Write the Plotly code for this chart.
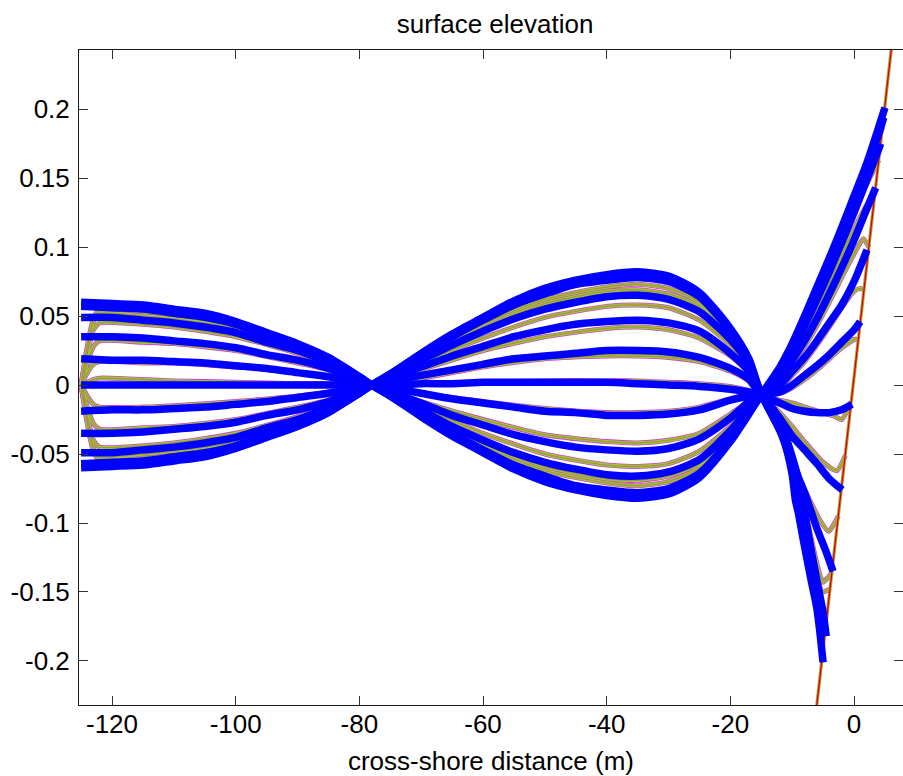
import plotly.graph_objects as go

# ---------------- data ----------------
# offshore x grid shared by the thick (blue) lines
X_LEFT = [-125, -120, -115, -110, -105, -100, -95, -90, -85, -80, -78]
X_MID = [-75, -70, -65, -60, -55, -50, -45, -40, -35, -30, -25, -20, -17]

# blue lines: offshore part (left lobe + middle lobe)
BLUE_A_OFF = [0.060, 0.059, 0.058, 0.055, 0.052, 0.046, 0.038, 0.030, 0.020, 0.006, 0.000,
              -0.008, -0.023, -0.037, -0.049, -0.061, -0.070, -0.076, -0.080, -0.082, -0.079, -0.067, -0.041, -0.021]
BLUE_B_OFF = [0.057, 0.056, 0.055, 0.052, 0.049, 0.044, 0.036, 0.029, 0.019, 0.006, 0.000,
              -0.008, -0.022, -0.035, -0.047, -0.058, -0.066, -0.073, -0.076, -0.078, -0.075, -0.064, -0.039, -0.020]
BLUE_C_OFF = [0.049, 0.049, 0.047, 0.045, 0.042, 0.038, 0.031, 0.025, 0.016, 0.005, 0.000,
              -0.007, -0.018, -0.030, -0.040, -0.049, -0.056, -0.061, -0.065, -0.066, -0.063, -0.054, -0.033, -0.017]
BLUE_D_OFF = [0.035, 0.035, 0.034, 0.032, 0.030, 0.027, 0.022, 0.018, 0.012, 0.004, 0.000,
              -0.005, -0.013, -0.022, -0.029, -0.036, -0.041, -0.045, -0.047, -0.048, -0.046, -0.039, -0.024, -0.012]
BLUE_E_OFF = [0.019, 0.018, 0.018, 0.017, 0.016, 0.014, 0.012, 0.009, 0.006, 0.002, 0.000,
              -0.002, -0.006, -0.010, -0.013, -0.016, -0.019, -0.020, -0.022, -0.022, -0.021, -0.018, -0.011, -0.008]
BLUE_F_OFF = [0.000, 0.000, 0.000, 0.000, 0.000, 0.000, 0.000, 0.000, 0.000, 0.000, 0.000,
              0.000, 0.001, 0.001, 0.002, 0.002, 0.002, 0.002, 0.002, 0.001, 0.000, -0.001, -0.003, -0.005]
BLUE_G_OFF = [-0.019, -0.018, -0.018, -0.017, -0.016, -0.014, -0.012, -0.009, -0.006, -0.002, 0.000,
              0.003, 0.007, 0.011, 0.015, 0.019, 0.021, 0.023, 0.025, 0.025, 0.024, 0.020, 0.012, 0.004]
BLUE_H_OFF = [-0.035, -0.035, -0.034, -0.032, -0.030, -0.027, -0.022, -0.018, -0.012, -0.004, 0.000,
              0.005, 0.013, 0.021, 0.028, 0.035, 0.040, 0.044, 0.046, 0.047, 0.045, 0.039, 0.023, 0.010]
BLUE_I_OFF = [-0.049, -0.049, -0.047, -0.045, -0.042, -0.038, -0.031, -0.025, -0.016, -0.005, 0.000,
              0.007, 0.018, 0.029, 0.039, 0.048, 0.055, 0.060, 0.064, 0.065, 0.062, 0.053, 0.033, 0.015]
BLUE_J_OFF = [-0.057, -0.056, -0.055, -0.052, -0.049, -0.044, -0.036, -0.029, -0.019, -0.006, 0.000,
              0.008, 0.022, 0.035, 0.047, 0.058, 0.066, 0.073, 0.076, 0.078, 0.075, 0.064, 0.039, 0.018]
BLUE_K_OFF = [-0.060, -0.059, -0.058, -0.055, -0.052, -0.046, -0.038, -0.030, -0.020, -0.006, 0.000,
              0.008, 0.023, 0.037, 0.049, 0.061, 0.070, 0.076, 0.080, 0.082, 0.079, 0.067, 0.041, 0.019]

# blue lines: nearshore part (from the node at -15 m up to the run-up point)
BLUE_A_SX = [-15, -12, -10, -8, -6, -4, -2, 0, 2, 4, 5.0]
BLUE_A_SY = [-0.007, 0.013, 0.030, 0.050, 0.071, 0.092, 0.114, 0.137, 0.160, 0.187, 0.201]
BLUE_B_SX = [-15, -12, -10, -8, -6, -4, -2, 0, 2, 4, 4.8]
BLUE_B_SY = [-0.007, 0.012, 0.029, 0.048, 0.068, 0.089, 0.111, 0.133, 0.157, 0.182, 0.194]
BLUE_C_SX = [-15, -12, -10, -8, -6, -4, -2, 0, 2, 4, 4.3]
BLUE_C_SY = [-0.007, 0.010, 0.025, 0.043, 0.062, 0.082, 0.103, 0.125, 0.148, 0.171, 0.175]
BLUE_D_SX = [-15, -12, -10, -8, -6, -4, -2, 0, 2, 3.5]
BLUE_D_SY = [-0.007, 0.006, 0.018, 0.032, 0.048, 0.066, 0.085, 0.105, 0.127, 0.143]
BLUE_E_SX = [-15, -12, -10, -8, -6, -4, -2, 0, 2.1]
BLUE_E_SY = [-0.007, 0.000, 0.010, 0.020, 0.032, 0.045, 0.058, 0.075, 0.098]
BLUE_F_SX = [-15, -12, -10, -8, -6, -4, -2, 0, 1.0]
BLUE_F_SY = [-0.007, -0.005, 0.000, 0.007, 0.014, 0.022, 0.031, 0.040, 0.046]
BLUE_G_SX = [-15, -12, -10, -8, -6, -4, -2, -0.35]
BLUE_G_SY = [-0.007, -0.013, -0.017, -0.019, -0.020, -0.020, -0.018, -0.014]
BLUE_H_SX = [-15, -12, -10, -8, -6, -4, -1.9]
BLUE_H_SY = [-0.007, -0.024, -0.037, -0.047, -0.057, -0.068, -0.076]
BLUE_I_SX = [-15, -12, -10.4, -8, -6, -4.5, -3.4]
BLUE_I_SY = [-0.007, -0.033, -0.052, -0.078, -0.104, -0.121, -0.135]
BLUE_J_SX = [-15, -13, -12, -11, -10, -9, -8.4, -8, -7, -6, -5, -4.5]
BLUE_J_SY = [-0.007, -0.018, -0.027, -0.038, -0.052, -0.068, -0.083, -0.092, -0.118, -0.142, -0.165, -0.182]
BLUE_K_SX = [-15, -13, -12, -11, -10, -9.5, -9, -8, -7, -6, -5.5, -5.0]
BLUE_K_SY = [-0.007, -0.020, -0.030, -0.045, -0.065, -0.083, -0.093, -0.117, -0.140, -0.162, -0.180, -0.201]

# thin (model) lines: offshore grid
THIN_X_LEFT = [-125, -124, -123, -122, -115, -110, -100, -90, -85, -80, -78]
THIN_X_MID = [-70, -60, -50, -40, -35, -30, -25, -20, -17]

THIN_A_OFF = [0, 0.028, 0.048, 0.055, 0.053, 0.051, 0.043, 0.028, 0.018, 0.006, 0,
              -0.020, -0.044, -0.062, -0.071, -0.073, -0.070, -0.060, -0.036, -0.018]
THIN_B_OFF = [0, 0.026, 0.046, 0.052, 0.050, 0.048, 0.041, 0.026, 0.017, 0.005, 0,
              -0.019, -0.041, -0.059, -0.068, -0.069, -0.066, -0.057, -0.035, -0.017]
THIN_C_OFF = [0, 0.023, 0.040, 0.045, 0.044, 0.042, 0.035, 0.023, 0.015, 0.005, 0,
              -0.016, -0.035, -0.050, -0.058, -0.059, -0.057, -0.048, -0.030, -0.015]
THIN_D_OFF = [0, 0.016, 0.028, 0.032, 0.031, 0.030, 0.025, 0.016, 0.011, 0.003, 0,
              -0.012, -0.025, -0.036, -0.041, -0.042, -0.040, -0.035, -0.021, -0.012]
THIN_E_OFF = [0, 0.009, 0.015, 0.017, 0.016, 0.016, 0.013, 0.009, 0.006, 0.002, 0,
              -0.006, -0.012, -0.017, -0.020, -0.020, -0.019, -0.016, -0.010, -0.007]
THIN_F_OFF = [0, 0.002, 0.004, 0.005, 0.004, 0.003, 0.002, 0.001, 0.001, 0.000, 0,
              0.001, 0.002, 0.003, 0.003, 0.003, 0.002, 0.001, -0.001, -0.004]
THIN_G_OFF = [0, -0.008, -0.014, -0.016, -0.016, -0.015, -0.012, -0.008, -0.005, -0.002, 0,
              0.005, 0.013, 0.019, 0.021, 0.021, 0.020, 0.017, 0.010, 0.003]
THIN_H_OFF = [0, -0.016, -0.028, -0.032, -0.031, -0.030, -0.025, -0.016, -0.011, -0.003, 0,
              0.011, 0.025, 0.035, 0.041, 0.042, 0.040, 0.034, 0.021, 0.009]
THIN_I_OFF = [0, -0.023, -0.040, -0.045, -0.044, -0.042, -0.035, -0.023, -0.015, -0.005, 0,
              0.016, 0.034, 0.049, 0.057, 0.058, 0.056, 0.047, 0.029, 0.013]
THIN_J_OFF = [0, -0.026, -0.046, -0.052, -0.050, -0.048, -0.041, -0.026, -0.017, -0.005, 0,
              0.019, 0.041, 0.059, 0.068, 0.069, 0.066, 0.057, 0.035, 0.016]
THIN_K_OFF = [0, -0.028, -0.048, -0.055, -0.053, -0.051, -0.043, -0.028, -0.018, -0.006, 0,
              0.020, 0.044, 0.062, 0.071, 0.073, 0.070, 0.060, 0.036, 0.017]

# thin lines: nearshore part
THIN_A_SX = [-15, -12, -10, -8, -6, -4, -2, 0, 2, 4, 4.6]
THIN_A_SY = [-0.007, 0.011, 0.027, 0.046, 0.066, 0.087, 0.109, 0.131, 0.155, 0.180, 0.187]
THIN_B_SX = [-15, -12, -10, -8, -6, -4, -2, 0, 2, 4.0]
THIN_B_SY = [-0.007, 0.010, 0.025, 0.043, 0.062, 0.082, 0.103, 0.124, 0.145, 0.163]
THIN_C_SX = [-15, -12, -10, -8, -6, -4, -2, 0, 2, 3.3]
THIN_C_SY = [-0.007, 0.008, 0.021, 0.037, 0.055, 0.074, 0.094, 0.113, 0.130, 0.136]
THIN_D_SX = [-15, -12, -10, -8, -6, -4, -2, 0, 1.5, 2.4]
THIN_D_SY = [-0.007, 0.004, 0.015, 0.028, 0.043, 0.060, 0.078, 0.095, 0.106, 0.100]
THIN_E_SX = [-15, -12, -10, -8, -6, -4, -2, 0, 1, 1.6]
THIN_E_SY = [-0.007, -0.002, 0.007, 0.017, 0.029, 0.042, 0.056, 0.068, 0.070, 0.069]
THIN_F_SX = [-15, -12, -10, -8, -6, -4, -2, -1, 0, 0.7]
THIN_F_SY = [-0.007, -0.006, -0.002, 0.004, 0.011, 0.019, 0.027, 0.030, 0.033, 0.033]
THIN_G_SX = [-15, -12, -10, -8, -5, -3, -2, -1.0]
THIN_G_SY = [-0.007, -0.011, -0.013, -0.016, -0.020, -0.023, -0.025, -0.018]
THIN_H_SX = [-15, -12, -10, -8, -5, -2.8, -1.4]
THIN_H_SY = [-0.007, -0.020, -0.030, -0.041, -0.056, -0.062, -0.051]
THIN_I_SX = [-15, -12, -10, -9.2, -7, -5.5, -4.1, -2.55]
THIN_I_SY = [-0.007, -0.035, -0.055, -0.064, -0.085, -0.098, -0.106, -0.095]
THIN_J_SX = [-15, -13, -12, -10, -9, -7.7, -6.5, -5.5, -5.0, -3.6]
THIN_J_SY = [-0.007, -0.016, -0.025, -0.050, -0.070, -0.095, -0.120, -0.138, -0.143, -0.136]
THIN_K_SX = [-15, -13, -12, -10, -9, -7.7, -6.5, -5.8, -5.2, -3.9]
THIN_K_SY = [-0.007, -0.018, -0.028, -0.057, -0.080, -0.112, -0.132, -0.142, -0.150, -0.148]

# beach (bed) profile near the shore
BED_X = [-6.1, 6.3]
BED_Y = [-0.235, 0.254]

# axis ticks
X_TICKS = [-120, -100, -80, -60, -40, -20, 0]
X_TICK_TEXT = ["-120", "-100", "-80", "-60", "-40", "-20", "0"]
Y_TICKS = [-0.2, -0.15, -0.1, -0.05, 0, 0.05, 0.1, 0.15, 0.2]
Y_TICK_TEXT = ["-0.2", "-0.15", "-0.1", "-0.05", "0", "0.05", "0.1", "0.15", "0.2"]

TITLE = "surface elevation"
X_LABEL = "cross-shore distance (m)"

# ---------------- figure ----------------
BLUE_LINES = [
    (BLUE_A_OFF, BLUE_A_SX, BLUE_A_SY), (BLUE_B_OFF, BLUE_B_SX, BLUE_B_SY),
    (BLUE_C_OFF, BLUE_C_SX, BLUE_C_SY), (BLUE_D_OFF, BLUE_D_SX, BLUE_D_SY),
    (BLUE_E_OFF, BLUE_E_SX, BLUE_E_SY), (BLUE_F_OFF, BLUE_F_SX, BLUE_F_SY),
    (BLUE_G_OFF, BLUE_G_SX, BLUE_G_SY), (BLUE_H_OFF, BLUE_H_SX, BLUE_H_SY),
    (BLUE_I_OFF, BLUE_I_SX, BLUE_I_SY), (BLUE_J_OFF, BLUE_J_SX, BLUE_J_SY),
    (BLUE_K_OFF, BLUE_K_SX, BLUE_K_SY),
]
THIN_LINES = [
    (THIN_A_OFF, THIN_A_SX, THIN_A_SY), (THIN_B_OFF, THIN_B_SX, THIN_B_SY),
    (THIN_C_OFF, THIN_C_SX, THIN_C_SY), (THIN_D_OFF, THIN_D_SX, THIN_D_SY),
    (THIN_E_OFF, THIN_E_SX, THIN_E_SY), (THIN_F_OFF, THIN_F_SX, THIN_F_SY),
    (THIN_G_OFF, THIN_G_SX, THIN_G_SY), (THIN_H_OFF, THIN_H_SX, THIN_H_SY),
    (THIN_I_OFF, THIN_I_SX, THIN_I_SY), (THIN_J_OFF, THIN_J_SX, THIN_J_SY),
    (THIN_K_OFF, THIN_K_SX, THIN_K_SY),
]

fig = go.Figure()

# thin model lines: drawn as stacked magenta / green / olive strokes
for color, width in [("#d43fd4", 5.0), ("#98d02a", 3.4), ("#a8924a", 1.3)]:
    for off, sx, sy in THIN_LINES:
        fig.add_trace(go.Scatter(
            x=THIN_X_LEFT + THIN_X_MID + sx, y=off + sy, mode="lines",
            line=dict(color=color, width=width, shape="spline", smoothing=0.6),
            hoverinfo="skip", showlegend=False))

# beach profile
fig.add_trace(go.Scatter(x=BED_X, y=BED_Y, mode="lines",
                         line=dict(color="#b59a3c", width=3.2), showlegend=False, hoverinfo="skip"))
fig.add_trace(go.Scatter(x=BED_X, y=BED_Y, mode="lines",
                         line=dict(color="#d40000", width=1.2), showlegend=False, hoverinfo="skip"))

# thick blue lines
for off, sx, sy in BLUE_LINES:
    fig.add_trace(go.Scatter(
        x=X_LEFT + X_MID + sx, y=off + sy, mode="lines",
        line=dict(color="#0000ff", width=7.5, shape="spline", smoothing=0.7),
        hoverinfo="skip", showlegend=False))

FONT = "Liberation Sans, Arial, Helvetica, sans-serif"

fig.update_layout(
    width=903, height=776,
    margin=dict(l=79, r=0, t=50, b=71, autoexpand=False),
    paper_bgcolor="white", plot_bgcolor="white",
    font=dict(family=FONT, size=26, color="black"),
    title=dict(text=TITLE, x=0.505, xref="paper", xanchor="center",
               y=1 - 24 / 776, yref="container", yanchor="middle",
               font=dict(family=FONT, size=26, color="black")),
    showlegend=False,
)
fig.update_xaxes(
    range=[-125.34, 7.92], tickvals=X_TICKS, ticktext=X_TICK_TEXT,
    ticks="inside", ticklen=9, tickwidth=1, tickcolor="#333333",
    showline=True, linecolor="#1a1a1a", linewidth=1, mirror="ticks",
    showgrid=False, zeroline=False, automargin=False, ticklabelstandoff=-4,
    tickfont=dict(family=FONT, size=26, color="black"),
    title=dict(text=X_LABEL, font=dict(family=FONT, size=26, color="black"), standoff=17),
)
fig.update_yaxes(
    range=[-0.2319, 0.2428], tickvals=Y_TICKS, ticktext=Y_TICK_TEXT,
    ticks="inside", ticklen=9, tickwidth=1, tickcolor="#333333",
    showline=True, linecolor="#1a1a1a", linewidth=1, mirror="ticks",
    showgrid=False, zeroline=False, automargin=False, ticklabelstandoff=3,
    tickfont=dict(family=FONT, size=26, color="black"),
)

fig.write_html("out.html", config={"displayModeBar": False},
               post_script="document.body.style.margin='0';")
